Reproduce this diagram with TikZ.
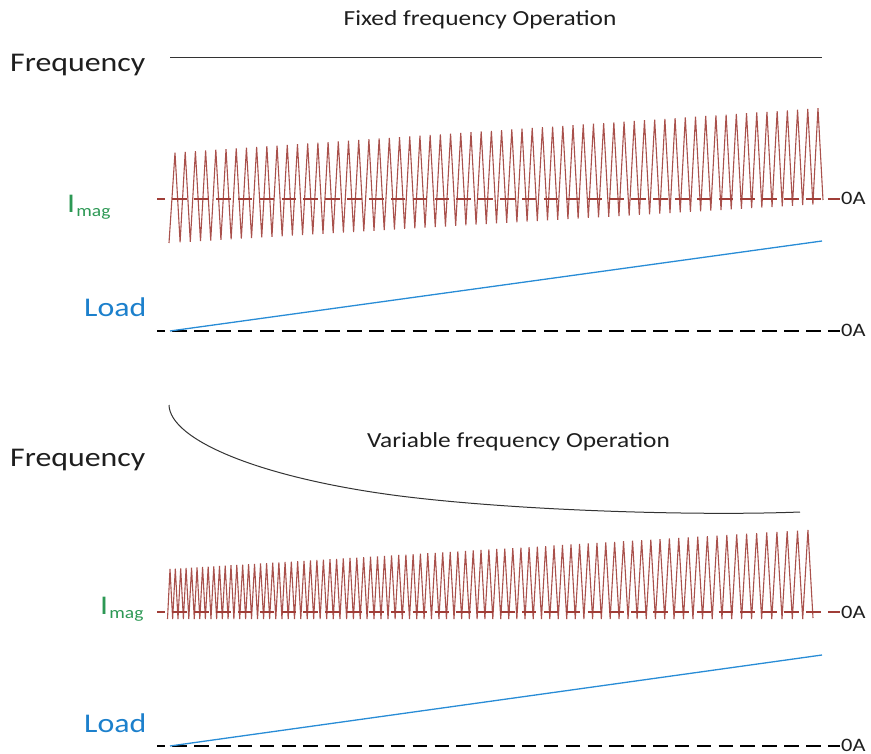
\documentclass[tikz,border=0pt]{standalone}
\usepackage{fontspec}
\setmainfont{Carlito}
\usepackage{graphicx}
\definecolor{wavered}{RGB}{160,62,56}
\definecolor{imaggreen}{RGB}{44,152,84}
\definecolor{loadblue}{RGB}{28,128,204}
\definecolor{lineblue}{RGB}{40,140,214}
\definecolor{txt}{RGB}{30,30,30}
\newcommand\hstretch[1]{\scalebox{1.18}[1]{#1}}
\tikzset{
  lbl/.style={inner sep=0pt, anchor=base west, text=txt},
  ttl/.style={inner sep=0pt, anchor=base, text=txt},
  zerodash/.style={dash pattern=on 14.5pt off 7.35pt, dash phase=6.5pt},
  wave/.style={draw=wavered, line width=1.1pt, line join=miter, opacity=0.9},
}
\begin{document}
\begin{tikzpicture}[x=1pt,y=-1pt]
\useasboundingbox (0,0) rectangle (871,754);

% ---------- Fixed frequency ----------
\node[ttl] (titleA) at (480,26) {\hstretch{\fontsize{21.5}{22}\selectfont Fixed frequency Operation}};
\node[lbl] (freqA) at (10,72) {\hstretch{\fontsize{27}{27}\selectfont Frequency}};
\draw[line width=1pt, draw=black!80] (170,58) -- (822,58);

\node[lbl, text=imaggreen] (imagA) at (67,213) {\hstretch{\fontsize{27}{27}\selectfont I\hspace{1pt}\raisebox{-4pt}{\fontsize{16.5}{16.5}\selectfont mag}}};
\draw[zerodash, draw=wavered, line width=1.6pt] (157,199) -- (840,199);
\node[lbl] (zeroA) at (841,204.5) {\hstretch{\fontsize{19}{19}\selectfont 0A}};

\draw[wave] (169,243)
  \foreach \k in {0,...,62} {
    -- ({175+\k*10.206}, {153-(45/653)*(6+\k*10.206)})
    -- ({180.103+\k*10.206}, {243-(39/653)*(11.103+\k*10.206)})
  }
  -- ({175+63*10.206}, {153-(45/653)*(6+63*10.206)})
  -- (823,200);

\node[lbl, text=loadblue] (loadA) at (84,317) {\hstretch{\fontsize{27}{27}\selectfont Load}};
\draw[zerodash, draw=black, line width=1.8pt] (157,331) -- (840,331);
\node[lbl] (zeroB) at (841,337) {\hstretch{\fontsize{19}{19}\selectfont 0A}};
\draw[draw=lineblue, line width=1.3pt] (170,331) -- (822,241);

% ---------- Variable frequency ----------
\node[ttl] (titleB) at (518.5,447) {\hstretch{\fontsize{21.5}{22}\selectfont Variable frequency Operation}};
\node[lbl] (freqB) at (10,466) {\hstretch{\fontsize{27}{27}\selectfont Frequency}};
\draw[line width=1pt, draw=black!80] (169,405)
  .. controls (170,440) and (260,478) .. (400,496)
  .. controls (520,511) and (700,516) .. (800,512);

\node[lbl, text=imaggreen] (imagB) at (100,614) {\hstretch{\fontsize{27}{27}\selectfont I\hspace{1pt}\raisebox{-4pt}{\fontsize{16.5}{16.5}\selectfont mag}}};
\draw[zerodash, draw=wavered, line width=1.6pt] (157,612) -- (840,612);
\node[lbl] (zeroC) at (841,618) {\hstretch{\fontsize{19}{19}\selectfont 0A}};

\draw[wave] (167.5,619)
  \foreach \k in {0,...,83} {
    -- ({170+654.3*(exp(0.0081*\k)-1)}, {569-(39/638)*654.3*(exp(0.0081*\k)-1)})
    -- ({170+654.3*(exp(0.0081*(\k+0.5))-1)}, 619)
  }
  -- ({170+654.3*(exp(0.0081*84)-1)}, {569-(39/638)*654.3*(exp(0.0081*84)-1)})
  -- (813,618);

\node[lbl, text=loadblue] (loadB) at (84,732) {\hstretch{\fontsize{27}{27}\selectfont Load}};
\draw[zerodash, draw=black, line width=1.8pt] (157,746) -- (840,746);
\node[lbl] (zeroD) at (841,751) {\hstretch{\fontsize{19}{19}\selectfont 0A}};
\draw[draw=lineblue, line width=1.3pt] (170,746) -- (822,655);

\end{tikzpicture}
\end{document}
